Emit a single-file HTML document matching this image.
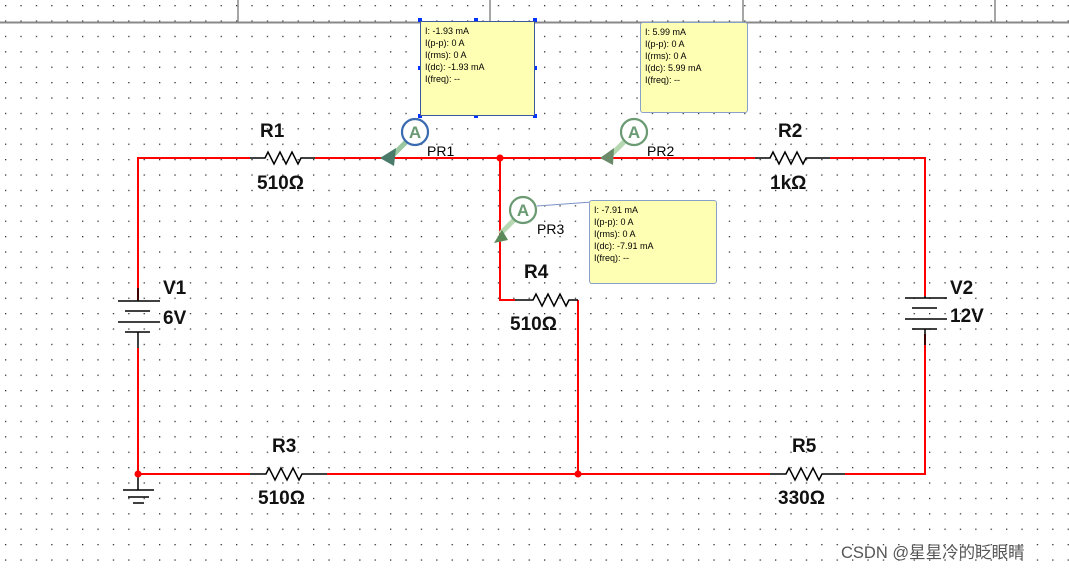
<!DOCTYPE html><html><head><meta charset="utf-8"><style>
body{margin:0;width:1069px;height:568px;overflow:hidden;background:#fff;font-family:"Liberation Sans",sans-serif}
.box{position:absolute;background:#ffffb4;border:1px solid #8aa0c8;border-radius:3px;font-size:9px;line-height:12px;padding:3px 4px;box-sizing:border-box;color:#000}
.l{position:absolute;font-weight:bold;font-size:19px;color:#111}
.p{position:absolute;font-size:14px;color:#000}
</style></head><body>
<svg width="1069" height="568" style="position:absolute;left:0;top:0">
<defs><pattern id="d" width="15.4" height="15.4" patternUnits="userSpaceOnUse" x="5" y="5"><rect width="1.3" height="1.3" fill="#333"/></pattern></defs>
<rect width="1069" height="568" fill="url(#d)"/>
<line x1="0" y1="22.5" x2="1069" y2="22.5" stroke="#888" stroke-width="2"/>
<g stroke="#888" stroke-width="1.5"><line x1="238" y1="0" x2="238" y2="22"/><line x1="490" y1="0" x2="490" y2="22"/><line x1="743" y1="0" x2="743" y2="22"/><line x1="995" y1="0" x2="995" y2="22"/></g>
<g fill="none" stroke="#f00" stroke-width="2">
<polyline points="138,300 138,158 250,158"/><line x1="315" y1="158" x2="755" y2="158"/><polyline points="830,158 925,158 925,296"/>
<line x1="138" y1="348" x2="138" y2="474"/><line x1="138" y1="474" x2="250" y2="474"/><line x1="327" y1="474" x2="770" y2="474"/><polyline points="845,474 925,474 925,334"/>
<polyline points="500,158 500,300 515,300"/><polyline points="578,300 578,474"/>
</g>
<g fill="none" stroke="#000" stroke-width="1.5">
<polyline points="250,158 265,158 268,152 274,164 280,152 286,164 292,152 298,164 301,158 315,158"/>
<polyline points="755,158 770,158 773,152 779,164 785,152 791,164 797,152 803,164 806,158 830,158"/>
<polyline points="250,474 266,474 269,468 275,480 281,468 287,480 293,468 299,480 302,474 327,474"/>
<polyline points="770,474 786,474 789,468 795,480 801,468 807,480 813,468 819,480 822,474 845,474"/>
<polyline points="515,300 533,300 536,294 542,306 548,294 554,306 560,294 566,306 569,300 578,300"/>
<line x1="118" y1="301" x2="160" y2="301"/><line x1="125" y1="311" x2="150" y2="311"/><line x1="118" y1="322" x2="160" y2="322"/><line x1="125" y1="332" x2="150" y2="332"/><line x1="138" y1="332" x2="138" y2="348"/><line x1="138" y1="288" x2="138" y2="301"/>
<line x1="905" y1="298" x2="947" y2="298"/><line x1="912" y1="308" x2="937" y2="308"/><line x1="905" y1="319" x2="947" y2="319"/><line x1="912" y1="329" x2="937" y2="329"/><line x1="925" y1="329" x2="925" y2="345"/><line x1="925" y1="296" x2="925" y2="298"/>
<line x1="138" y1="474" x2="138" y2="490"/><line x1="123" y1="490" x2="154" y2="490"/><line x1="128" y1="497" x2="149" y2="497"/><line x1="133" y1="503" x2="144" y2="503"/>
</g>
<g fill="#f00"><circle cx="500" cy="158" r="3.5"/><circle cx="138" cy="474" r="3.5"/><circle cx="578" cy="474" r="3.5"/></g>
<line x1="537" y1="206" x2="592" y2="202" stroke="#7c92c8" stroke-width="1"/>
<g stroke-width="2.2">
<line x1="406" y1="142" x2="392" y2="156" stroke="#9bc7a0" stroke-width="5"/><polygon points="380,158 396,148 394,166" fill="#4a7a6a" stroke="none"/>
<circle cx="415" cy="132" r="13" fill="#fff" stroke="#3a6ab0"/>
<line x1="624" y1="142" x2="610" y2="156" stroke="#b5d8b0" stroke-width="5"/><polygon points="600,158 614,148 613,165" fill="#6a8a6a" stroke="none"/>
<circle cx="634" cy="132" r="13" fill="#fff" stroke="#6a9a72"/>
<line x1="514" y1="220" x2="500" y2="234" stroke="#b5d8b0" stroke-width="5"/><polygon points="494,243 502,230 508,240" fill="#5a8a5a" stroke="none"/>
<circle cx="523" cy="210" r="13" fill="#fff" stroke="#6a9a72"/>
</g>
<g font-family="Liberation Sans" font-weight="bold" font-size="17" text-anchor="middle"><text x="415" y="138" fill="#6a9a72">A</text><text x="634" y="138" fill="#6a9a72">A</text><text x="523" y="216" fill="#6a9a72">A</text></g>
<g fill="#0033ff"><rect x="418" y="18" width="4" height="4"/><rect x="474" y="18" width="4" height="4"/><rect x="533" y="18" width="4" height="4"/><rect x="418" y="66" width="4" height="4"/><rect x="533" y="66" width="4" height="4"/><rect x="418" y="114" width="4" height="4"/><rect x="474" y="114" width="4" height="4"/><rect x="533" y="114" width="4" height="4"/></g>
</svg>
<div class="box" style="left:420px;top:21px;width:115px;height:95px;border-color:#3a5a9a;border-radius:0">I: -1.93 mA<br>I(p-p): 0 A<br>I(rms): 0 A<br>I(dc): -1.93 mA<br>I(freq): --</div>
<div class="box" style="left:640px;top:22px;width:108px;height:91px">I: 5.99 mA<br>I(p-p): 0 A<br>I(rms): 0 A<br>I(dc): 5.99 mA<br>I(freq): --</div>
<div class="box" style="left:589px;top:200px;width:128px;height:84px">I: -7.91 mA<br>I(p-p): 0 A<br>I(rms): 0 A<br>I(dc): -7.91 mA<br>I(freq): --</div>
<div class="p" style="left:427px;top:143px">PR1</div>
<div class="p" style="left:647px;top:143px">PR2</div>
<div class="p" style="left:537px;top:221px">PR3</div>
<div class="l" style="left:260px;top:121px">R1</div><div class="l" style="left:257px;top:173px">510Ω</div>
<div class="l" style="left:778px;top:121px">R2</div><div class="l" style="left:770px;top:173px">1kΩ</div>
<div class="l" style="left:524px;top:262px">R4</div><div class="l" style="left:510px;top:314px">510Ω</div>
<div class="l" style="left:272px;top:436px">R3</div><div class="l" style="left:258px;top:488px">510Ω</div>
<div class="l" style="left:792px;top:436px">R5</div><div class="l" style="left:778px;top:488px">330Ω</div>
<div class="l" style="left:163px;top:278px">V1</div><div class="l" style="left:163px;top:308px">6V</div>
<div class="l" style="left:950px;top:278px">V2</div><div class="l" style="left:950px;top:306px">12V</div>
<div style="position:absolute;left:841px;top:539px;font-size:16.5px;color:#555;font-family:'Liberation Sans','Noto Sans CJK SC',sans-serif">CSDN @星星冷的眨眼睛</div>
</body></html>
